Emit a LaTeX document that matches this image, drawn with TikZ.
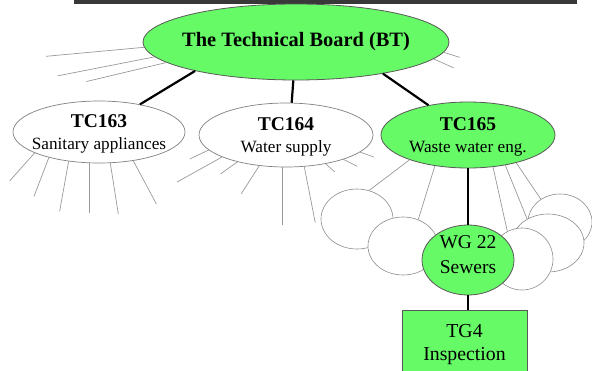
\documentclass[tikz,border=0pt]{standalone}
\usepackage{fontspec}
\setmainfont{Liberation Serif}
\usetikzlibrary{shapes.geometric}

\definecolor{boardgreen}{RGB}{102,250,102}
\tikzstyle{body}=[ellipse, draw=black!65, fill=boardgreen, line width=0.8pt]
\tikzstyle{tc}=[ellipse, draw=black!50, fill=white, line width=0.7pt]
\tikzstyle{wg}=[ellipse, draw=black!45, fill=white, line width=0.6pt]
\tikzstyle{box}=[rectangle, draw=black!65, fill=boardgreen, line width=0.8pt, align=center]
\tikzstyle{link}=[line width=2.2pt]
\tikzstyle{spoke}=[draw=black!40, line width=0.7pt]

\newcommand{\tcname}[1]{{\bfseries\fontsize{19.5}{22}\selectfont #1}}

\begin{document}
\begin{tikzpicture}[x=1pt,y=-1pt,
    every label/.style={align=center, inner sep=0pt, font=\fontsize{17.2}{22}\selectfont}]
  \useasboundingbox (0,0) rectangle (592,370);
  \clip (0,0) rectangle (592,370);
  % dark bar along the top
  \fill[black!78] (74,-6) rectangle (577,4);

  % board and the three committees
  \node[body, minimum width=306, minimum height=76,
        label={center:{\bfseries\fontsize{20.4}{22}\selectfont The Technical Board (BT)}}] (bt) at (296,42) {};
  \node[tc, minimum width=172, minimum height=62,
        label={[yshift=-2pt]center:{\tcname{TC163}\\Sanitary appliances}}] (tc163) at (99,132) {};
  \node[tc, minimum width=174, minimum height=64,
        label={[yshift=-2pt]center:{\tcname{TC164}\\Water supply}}] (tc164) at (286,135) {};
  \node[body, minimum width=174, minimum height=66,
        label={[yshift=-2pt]center:{\tcname{TC165}\\Waste water eng.}}] (tc165) at (468,135) {};

  % loose ends around the board and the committees
  \foreach \a/\dx/\dy in {182/-98/9, 186.5/-97/19, 189.3/-80/19, 356/16/5, 353.3/20/9}
    \draw[spoke] (bt.\a) -- ++(\dx,\dy);
  \foreach \a/\dx/\dy in {198/-25/28, 207/-15/39, 224/-9/50, 252/0/50, 290/8/51, 320/23/43}
    \draw[spoke] (tc163.\a) -- ++(\dx,\dy);
  \foreach \a/\dx/\dy in {191/-19/9, 199/-45/25, 209.5/-17/12, 229.5/-18/28, 263.5/0/58,
                          300.5/11/56, 324.5/9/8, 337/14/7, 347/14/5}
    \draw[spoke] (tc164.\a) -- ++(\dx,\dy);

  % working groups under TC165
  \node[wg, minimum width=72, minimum height=60] (wga) at (357,219) {};
  \node[wg, minimum width=70, minimum height=58] (wgb) at (403,246) {};
  \node[wg, minimum width=64, minimum height=56] (wgc) at (560,222) {};
  \node[wg, minimum width=72, minimum height=58] (wgd) at (548,243) {};
  \node[wg, minimum width=62, minimum height=62] (wge) at (522,259) {};
  \draw[spoke] (tc165.203) -- (wga.67);
  \draw[spoke] (tc165.223) -- (wgb.60);
  \draw[spoke] (tc165.308) -- (wge.118);
  \draw[spoke] (tc165.321) -- (wgd.131);
  \draw[spoke] (tc165.330) -- (wgc.130);

  \node[body, minimum width=92, minimum height=70,
        label={[yshift=5pt, font=\fontsize{19.5}{25}\selectfont]center:{WG 22\\Sewers}}] (wg22) at (468,260) {};
  \node[box, minimum width=125, minimum height=70,
        font=\fontsize{19.8}{23}\selectfont] (tg4) at (464.5,345) {TG4\\Inspection};

  % the chain BT -> TC165 -> WG 22 -> TG4
  \draw[link] (bt.196) -- (tc163.34);
  \draw[link] (bt.266) -- (tc164.80);
  \draw[link] (bt.340) -- (tc165.143);
  \draw[link] (tc165) -- (wg22);
  \draw[link] (wg22) -- (wg22 |- tg4.north);
\end{tikzpicture}
\end{document}
